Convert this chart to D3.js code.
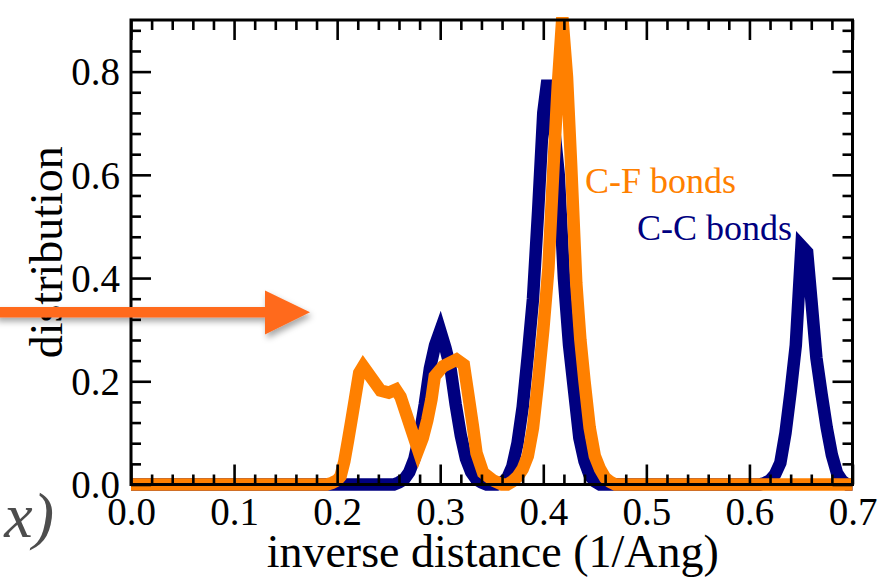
<!DOCTYPE html>
<html>
<head>
<meta charset="utf-8">
<script src="https://cdn.jsdelivr.net/npm/d3@7"></script>
<style>
  html, body { margin: 0; padding: 0; background: #fff; }
  svg { display: block; }
</style>
</head>
<body>
<svg id="chart" width="883" height="577"></svg>
<script>
// Inverse-distance distributions for C-C and C-F bonds
const ccX = [0, 0.255, 0.26, 0.265, 0.27, 0.275, 0.28, 0.285, 0.29, 0.295, 0.30, 0.305, 0.31, 0.315, 0.32, 0.325, 0.33, 0.335, 0.34, 0.345,
             0.355, 0.36, 0.365, 0.37, 0.375, 0.38, 0.385, 0.39, 0.395, 0.40, 0.404, 0.41, 0.415, 0.42, 0.425, 0.43, 0.435, 0.44, 0.445, 0.45, 0.455,
             0.61, 0.615, 0.62, 0.625, 0.63, 0.635, 0.64, 0.645, 0.6505, 0.656, 0.66, 0.665, 0.67, 0.675, 0.68, 0.685, 0.69, 0.695, 0.70];
const ccY = [0, 0, 0.004, 0.01, 0.024, 0.05, 0.095, 0.155, 0.225, 0.27, 0.298, 0.265, 0.225, 0.155, 0.095, 0.05, 0.024, 0.01, 0.004, 0,
             0, 0.004, 0.012, 0.035, 0.08, 0.15, 0.25, 0.36, 0.53, 0.72, 0.783, 0.70, 0.60, 0.40, 0.27, 0.18, 0.09, 0.045, 0.018, 0.006, 0,
             0, 0.003, 0.008, 0.02, 0.042, 0.10, 0.18, 0.27, 0.462, 0.45, 0.36, 0.245, 0.175, 0.11, 0.057, 0.022, 0.007, 0, 0];

const cfX = [0, 0.19, 0.195, 0.2, 0.2033, 0.207, 0.2107, 0.214, 0.2172, 0.2214, 0.2253, 0.2421, 0.25, 0.2569, 0.2615, 0.2786, 0.283, 0.2875,
             0.2915, 0.2947, 0.3028, 0.3158, 0.3229, 0.327, 0.3317, 0.3352, 0.3416, 0.3513, 0.36,
             0.365, 0.37, 0.375, 0.38, 0.385, 0.39, 0.395, 0.40, 0.405, 0.41, 0.414, 0.4185, 0.423, 0.427, 0.432, 0.436, 0.44, 0.445,
             0.45, 0.455, 0.46, 0.465, 0.47, 0.70];
const cfY = [0, 0, 0.003, 0.008, 0.016, 0.045, 0.087, 0.126, 0.1645, 0.216, 0.229, 0.182, 0.178, 0.184, 0.170, 0.067, 0.09, 0.125,
             0.165, 0.21, 0.229, 0.242, 0.232, 0.177, 0.113, 0.061, 0.023, 0.008, 0,
             0, 0.006, 0.015, 0.03, 0.055, 0.11, 0.2, 0.30, 0.42, 0.62, 0.77, 0.905, 0.79, 0.62, 0.39, 0.28, 0.20, 0.11,
             0.055, 0.03, 0.013, 0.005, 0, 0];

const xMajor = [0, 0.1, 0.2, 0.3, 0.4, 0.5, 0.6, 0.7];
const xMinor = [0.02, 0.04, 0.06, 0.08, 0.12, 0.14, 0.16, 0.18, 0.22, 0.24, 0.26, 0.28, 0.32, 0.34, 0.36, 0.38,
                0.42, 0.44, 0.46, 0.48, 0.52, 0.54, 0.56, 0.58, 0.62, 0.64, 0.66, 0.68];
const yMajor = [0, 0.2, 0.4, 0.6, 0.8];
const yMinor = [0.04, 0.08, 0.12, 0.16, 0.24, 0.28, 0.32, 0.36, 0.44, 0.48, 0.52, 0.56, 0.64, 0.68, 0.72, 0.76, 0.84, 0.88];

const seriesNames = ["C-C bonds", "C-F bonds"];
const seriesColors = ["#000080", "#FF8000"];

const SERIF = "Liberation Serif";
const svg = d3.select("#chart").attr("font-family", SERIF);
const L = 131, R = 852.5, T = 20, B = 484.5;
const x = d3.scaleLinear().domain([0, 0.7]).range([L, R]);
const y = d3.scaleLinear().domain([0, 0.9]).range([B, T]);

const defs = svg.append("defs");
const shadow = defs.append("filter").attr("id", "shadow")
  .attr("x", "-10%").attr("y", "-60%").attr("width", "130%").attr("height", "260%");
shadow.append("feDropShadow").attr("dx", 2).attr("dy", 4).attr("stdDeviation", 3)
  .attr("flood-color", "#000").attr("flood-opacity", 0.35);
const soft = defs.append("filter").attr("id", "soft");
soft.append("feGaussianBlur").attr("stdDeviation", 0.7);

// curves
const line = d3.line().x(d => x(d[0])).y(d => y(d[1]));
const series = [d3.zip(ccX, ccY), d3.zip(cfX, cfY)];
svg.append("g").selectAll("path").data(series).join("path")
  .attr("d", line)
  .attr("fill", "none")
  .attr("stroke", (d, i) => seriesColors[i])
  .attr("stroke-width", 12.5)
  .attr("stroke-linejoin", "miter")
  .attr("stroke-miterlimit", 4);

// axes: ticks point inward on all four sides
function styleAxis(g, w) {
  g.attr("font-family", SERIF);
  g.select(".domain").remove();
  g.selectAll(".tick line").attr("stroke", "#000").attr("stroke-width", w);
}
const tickFont = 39;

const gxB = svg.append("g").attr("transform", `translate(0,${B})`)
  .call(d3.axisBottom(x).tickValues(xMajor).tickSize(-20).tickFormat(d3.format(".1f")));
styleAxis(gxB, 2.6);
gxB.selectAll("text").attr("y", 40.5).attr("dy", 0).attr("font-size", tickFont).attr("fill", "#000");
svg.append("g").attr("transform", `translate(0,${B})`)
  .call(d3.axisBottom(x).tickValues(xMinor).tickSize(-10).tickFormat(""))
  .call(g => styleAxis(g, 2.6));
svg.append("g").attr("transform", `translate(0,${T})`)
  .call(d3.axisTop(x).tickValues(xMajor).tickSize(-20).tickFormat(""))
  .call(g => styleAxis(g, 2.6));
svg.append("g").attr("transform", `translate(0,${T})`)
  .call(d3.axisTop(x).tickValues(xMinor).tickSize(-10).tickFormat(""))
  .call(g => styleAxis(g, 2.6));

const gyL = svg.append("g").attr("transform", `translate(${L},0)`)
  .call(d3.axisLeft(y).tickValues(yMajor).tickSize(-20).tickFormat(d3.format(".1f")));
styleAxis(gyL, 2.6);
gyL.selectAll("text").attr("x", -11).attr("dy", "0.34em").attr("font-size", tickFont).attr("fill", "#000");
svg.append("g").attr("transform", `translate(${L},0)`)
  .call(d3.axisLeft(y).tickValues(yMinor).tickSize(-10).tickFormat(""))
  .call(g => styleAxis(g, 2.6));
svg.append("g").attr("transform", `translate(${R},0)`)
  .call(d3.axisRight(y).tickValues(yMajor).tickSize(-20).tickFormat(""))
  .call(g => styleAxis(g, 2.6));
svg.append("g").attr("transform", `translate(${R},0)`)
  .call(d3.axisRight(y).tickValues(yMinor).tickSize(-10).tickFormat(""))
  .call(g => styleAxis(g, 2.6));

// frame
svg.append("rect").attr("x", L).attr("y", T).attr("width", R - L).attr("height", B - T)
  .attr("fill", "none").attr("stroke", "#000").attr("stroke-width", 3);

// axis titles
svg.append("text").attr("x", (L + R) / 2 + 1).attr("y", 567).attr("text-anchor", "middle")
  .attr("font-family", SERIF).attr("font-size", 46).attr("fill", "#000").text("inverse distance (1/Ang)");
svg.append("text").attr("transform", `translate(62,${(T + B) / 2}) rotate(-90)`)
  .attr("font-family", SERIF).attr("text-anchor", "middle").attr("font-size", 46).attr("fill", "#000").text("distribution");

// series labels
svg.append("text").attr("x", 585).attr("y", 193).attr("font-family", SERIF).attr("font-size", 36)
  .attr("fill", seriesColors[1]).text(seriesNames[1]);
svg.append("text").attr("x", 637).attr("y", 240).attr("font-family", SERIF).attr("font-size", 36)
  .attr("fill", seriesColors[0]).text(seriesNames[0]);

// fragment of a neighbouring formula
svg.append("text").attr("x", 54).attr("y", 537).attr("text-anchor", "end")
  .attr("font-family", SERIF).attr("font-size", 64).attr("font-style", "italic").attr("fill", "#4d4d4d")
  .attr("filter", "url(#soft)").text("x)");

// pointer arrow
const arrow = svg.append("g").attr("filter", "url(#shadow)");
arrow.append("rect").attr("x", -5).attr("y", 307).attr("width", 272).attr("height", 10.5).attr("fill", "#FF6B1E");
arrow.append("path").attr("d", "M265,290.5 L310,312.3 L265,334.5 Z").attr("fill", "#FF6B1E");
</script>
</body>
</html>
